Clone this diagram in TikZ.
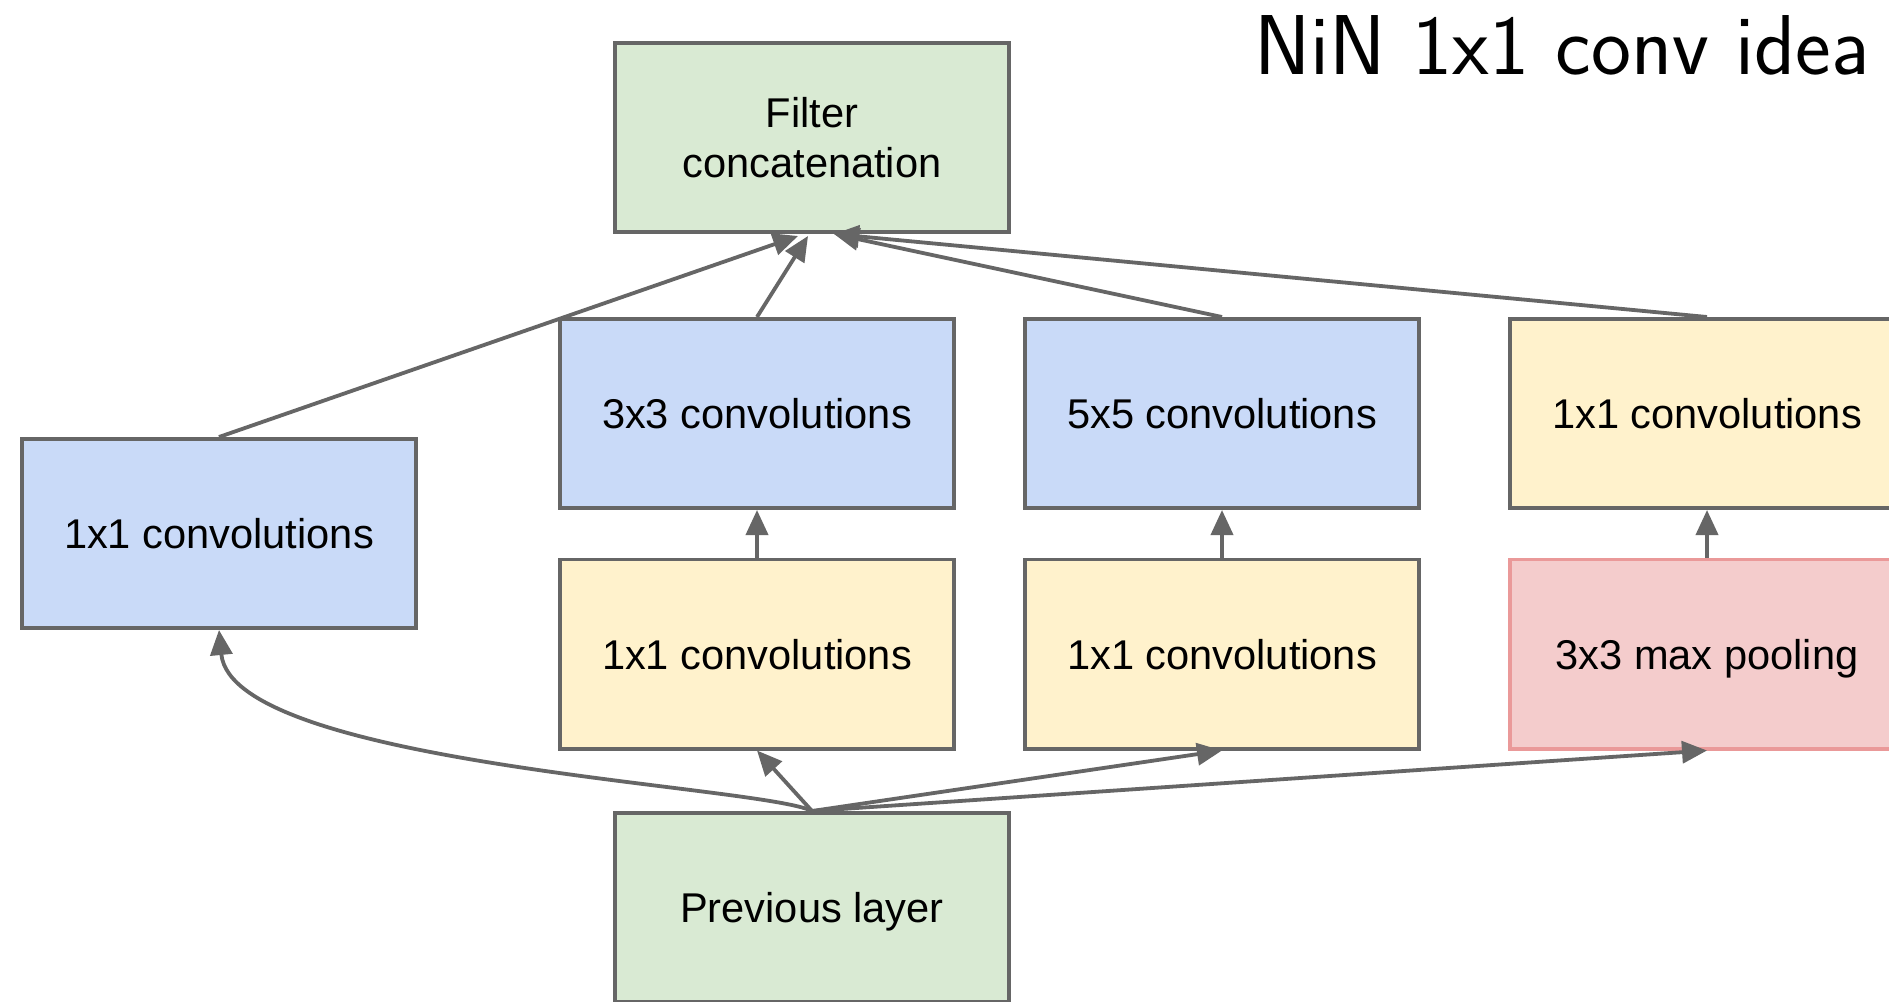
\documentclass[tikz,border=0pt]{standalone}
\usepackage{fontspec}
\setmainfont{Liberation Sans}
\usetikzlibrary{arrows.meta,calc}

\definecolor{edge}{HTML}{666666}
\definecolor{greenfill}{HTML}{D9EAD3}
\definecolor{bluefill}{HTML}{C9DAF8}
\definecolor{yellowfill}{HTML}{FFF2CC}
\definecolor{redfill}{HTML}{F4CCCC}
\definecolor{redline}{HTML}{EA9999}

\begin{document}
\begin{tikzpicture}[x=0.5pt,y=-0.5pt,
  layer/.style={draw=edge, line width=1.8pt, minimum width=197pt,
    minimum height=94.7pt, inner sep=0pt, align=center,
    font=\fontsize{20.8}{25}\selectfont},
  single/.style={text depth=0pt},
  greenbox/.style={layer, fill=greenfill},
  bluebox/.style={layer, single, fill=bluefill},
  yellowbox/.style={layer, single, fill=yellowfill},
  redbox/.style={layer, single, fill=redfill, draw=redline},
  arr/.style={draw=edge, line width=1.9pt,
    -{Triangle[length=12.5pt,width=11pt]}}]

\useasboundingbox (0,0) rectangle (1889,1001);
\fill[white] (0,0) rectangle (1889,1001);
\clip (0,0) rectangle (1889,1001);

% title
\node[anchor=base east, inner sep=0pt,
  font=\sffamily\fontsize{42.5}{50}\selectfont] (title) at (1870,74) {NiN 1x1 conv idea};

% layers
\node[greenbox]  (concat) at (812,137.5)  {Filter\\concatenation};
\node[bluebox]   (left)   at (219,533.5)  {1x1 convolutions};
\node[bluebox]   (c3)     at (757,413.5)  {3x3 convolutions};
\node[bluebox]   (c5)     at (1222,413.5) {5x5 convolutions};
\node[yellowbox] (p1)     at (1707,413.5) {1x1 convolutions};
\node[yellowbox] (y1)     at (757,654)    {1x1 convolutions};
\node[yellowbox] (y2)     at (1222,654)   {1x1 convolutions};
\node[redbox]    (pool)   at (1707,654)   {3x3 max pooling};
\node[greenbox, single] (prev) at (812,907.5) {Previous layer};

% into the concatenation
\draw[arr] (left.north) -- ($(concat.south)+(-14,2)$);
\draw[arr] (c3.north)   -- ($(concat.south)+(-4,2)$);
\draw[arr] (c5.north)   -- ($(concat.south)+(22,0)$);
\draw[arr] (p1.north)   -- ($(concat.south)+(22,0)$);

% reductions
\draw[arr] (y1.north)   -- (c3.south);
\draw[arr] (y2.north)   -- (c5.south);
\draw[arr] (pool.north) -- (p1.south);

% out of the previous layer
\draw[arr] (prev.north) .. controls (760,785) and (232,765) .. (left.south);
\draw[arr] (prev.north) -- (y1.south);
\draw[arr] (prev.north) -- (y2.south);
\draw[arr] (prev.north) -- (pool.south);
\end{tikzpicture}
\end{document}
